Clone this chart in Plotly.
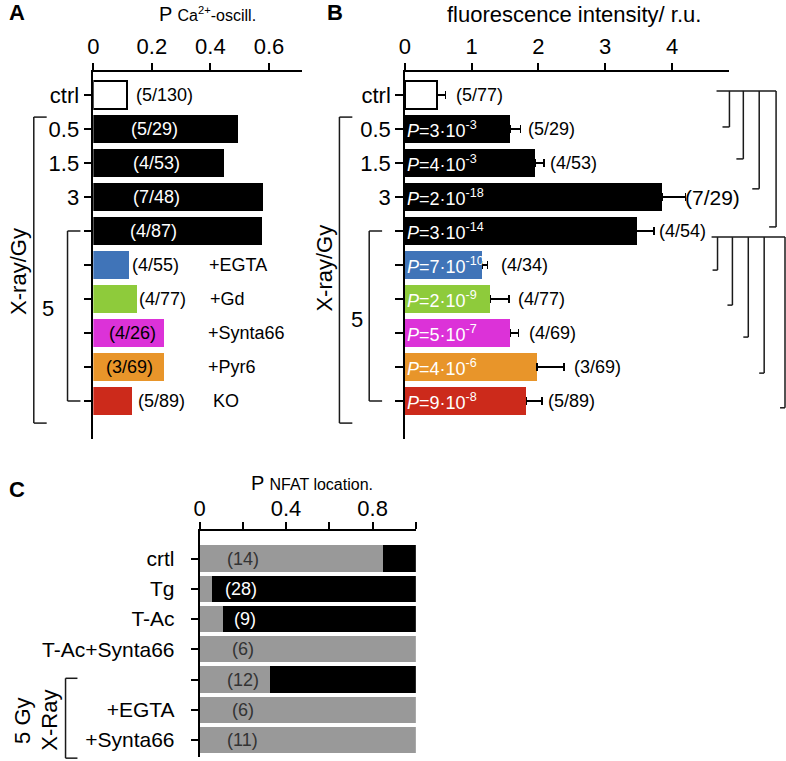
import plotly.graph_objects as go

W, H = 786, 761
FONT = "Liberation Sans, Arial, Helvetica, sans-serif"

# ---------------- data ----------------
# Panel A : probability of Ca2+ oscillation
a_rows = list(range(10))
a_labels = ["ctrl", "0.5", "1.5", "3", "", "", "", "", "", ""]
a_values = [0.115, 0.495, 0.447, 0.58, 0.577, 0.122, 0.15, 0.24, 0.24, 0.132]
a_counts = ["(5/130)", "(5/29)", "(4/53)", "(7/48)", "(4/87)", "(4/55)", "(4/77)", "(4/26)", "(3/69)", "(5/89)"]
a_treat = ["", "", "", "", "", "+EGTA", "+Gd", "+Synta66", "+Pyr6", "KO"]

# Panel B : fluorescence intensity
b_values = [0.48, 1.58, 1.95, 3.85, 3.47, 1.16, 1.28, 1.58, 1.98, 1.82]
b_err = [0.13, 0.15, 0.13, 0.35, 0.26, 0.08, 0.28, 0.12, 0.40, 0.23]
b_counts = ["(5/77)", "(5/29)", "(4/53)", "(7/29)", "(4/54)", "(4/34)", "(4/77)", "(4/69)", "(3/69)", "(5/89)"]
b_pvals = ["", "3·10<sup>-3</sup>", "4·10<sup>-3</sup>", "2·10<sup>-18</sup>", "3·10<sup>-14</sup>",
           "7·10<sup>-10</sup>", "2·10<sup>-9</sup>", "5·10<sup>-7</sup>", "4·10<sup>-6</sup>", "9·10<sup>-8</sup>"]

# Panel C : NFAT location
c_rows = list(range(7))
c_labels = ["crtl", "Tg", "T-Ac", "T-Ac+Synta66", "", "+EGTA", "+Synta66"]
c_gray = [0.85, 0.058, 0.11, 1.0, 0.325, 1.0, 1.0]
c_black = [0.15, 0.942, 0.89, 0.0, 0.675, 0.0, 0.0]
c_n = ["(14)", "(28)", "(9)", "(6)", "(12)", "(6)", "(11)"]

# ---------------- styles / positions ----------------
bar_colors = ["#ffffff", "#000000", "#000000", "#000000", "#000000",
              "#4074b8", "#8ecb3b", "#dc32d8", "#e8952a", "#cc2a1b"]
bar_lw = [1.2, 0, 0, 0, 0, 0, 0, 0, 0, 0]
a_count_x = [0.153, 0.21, 0.217, 0.217, 0.205, 0.14, 0.163, 0.133, 0.123, 0.159]
a_count_anchor = ["left", "center", "center", "center", "center", "left", "left", "center", "center", "left"]
a_count_col = ["black", "white", "white", "white", "white", "black", "black", "black", "black", "black"]
a_treat_x = [0, 0, 0, 0, 0, 0.403, 0.405, 0.40, 0.40, 0.416]
b_count_x = [0.80, 1.87, 2.20, 4.22, 3.83, 1.47, 1.72, 1.89, 2.56, 2.18]
b_count_size = [18, 18, 18, 21, 18, 18, 18, 18, 18, 18]
c_text_col = ["#333333", "white", "white", "#333333", "#333333", "#333333", "#333333"]
c_text_x = [0.2, 0.19, 0.21, 0.2, 0.2, 0.2, 0.2]

# geometry (pixels)
AB_TOP, AB_BOT, AB_ROW0, AB_ROWH = 72, 439, 95, 34
C_TOP, C_BOT, C_ROW0, C_ROWH = 531, 757, 558.5, 30.25


def xp(px):
    return px / W


def yp(py):
    return 1 - py / H


def ab_row_px(r):
    return AB_ROW0 + AB_ROWH * r


def c_row_px(r):
    return C_ROW0 + C_ROWH * r


fig = go.Figure()

# Panel A bars
fig.add_trace(go.Bar(x=a_values, y=a_rows, orientation="h", width=0.82,
                     marker=dict(color=bar_colors, line=dict(color="black", width=bar_lw)),
                     xaxis="x", yaxis="y", showlegend=False, hoverinfo="skip"))
# Panel B bars
fig.add_trace(go.Bar(x=b_values, y=a_rows, orientation="h", width=0.82,
                     marker=dict(color=bar_colors, line=dict(color="black", width=bar_lw)),
                     error_x=dict(type="data", symmetric=False, array=b_err,
                                  arrayminus=[0] * len(b_err), color="black", thickness=1.5, width=4),
                     xaxis="x2", yaxis="y2", showlegend=False, hoverinfo="skip"))
# Panel C stacked bars
fig.add_trace(go.Bar(x=c_gray, y=c_rows, orientation="h", width=0.86,
                     marker=dict(color="#999999", line=dict(width=0)),
                     xaxis="x3", yaxis="y3", showlegend=False, hoverinfo="skip"))
fig.add_trace(go.Bar(x=c_black, y=c_rows, orientation="h", width=0.86,
                     marker=dict(color="#000000", line=dict(width=0)),
                     xaxis="x3", yaxis="y3", showlegend=False, hoverinfo="skip"))

axis_common = dict(showline=True, linecolor="black", linewidth=1.5, ticks="outside",
                   tickcolor="black", tickwidth=1.5, showgrid=False, zeroline=False,
                   fixedrange=True)

ab_range = [(AB_BOT - AB_ROW0) / AB_ROWH, (AB_TOP - AB_ROW0) / AB_ROWH]
c_range = [(C_BOT - C_ROW0) / C_ROWH, (C_TOP - C_ROW0) / C_ROWH]

fig.update_layout(
    width=W, height=H, margin=dict(l=0, r=0, t=0, b=0),
    paper_bgcolor="white", plot_bgcolor="white", barmode="stack",
    font=dict(family=FONT, color="black"),
    xaxis=dict(axis_common, domain=[xp(88), xp(298)], range=[0, 0.712], side="top", anchor="y",
               tickvals=[0, 0.2, 0.4, 0.6], ticktext=["0", "0.2", "0.4", "0.6"],
               ticklen=7, tickfont=dict(size=22), ticklabelstandoff=0),
    yaxis=dict(axis_common, domain=[yp(AB_BOT), yp(AB_TOP)], range=ab_range, anchor="x",
               tickvals=a_rows, ticktext=a_labels, ticklen=8, tickfont=dict(size=22)),
    xaxis2=dict(axis_common, domain=[xp(402), xp(729)], range=[0, 4.86], side="top", anchor="y2",
                tickvals=[0, 1, 2, 3, 4], ticktext=["0", "1", "2", "3", "4"],
                ticklen=7, tickfont=dict(size=22), ticklabelstandoff=0),
    yaxis2=dict(axis_common, domain=[yp(AB_BOT), yp(AB_TOP)], range=ab_range, anchor="x2",
                tickvals=a_rows, ticktext=a_labels, ticklen=8, tickfont=dict(size=22)),
    xaxis3=dict(axis_common, domain=[xp(195), xp(413)], range=[0, 1.0], side="top", anchor="y3",
                tickvals=[0, 0.2, 0.4, 0.6, 0.8, 1.0], ticktext=["0", "", "0.4", "", "0.8", ""],
                ticklen=7, tickfont=dict(size=22), ticklabelstandoff=-3),
    yaxis3=dict(axis_common, domain=[yp(C_BOT), yp(C_TOP)], range=c_range, anchor="x3",
                tickvals=c_rows, ticktext=c_labels, ticklen=7, tickfont=dict(size=21),
                ticklabelstandoff=12),
)

ann = []
# Panel A labels
for i in a_rows:
    ann.append(dict(x=a_count_x[i], y=i, xref="x", yref="y", text=a_counts[i], showarrow=False,
                    xanchor=a_count_anchor[i], yanchor="middle",
                    xshift=-4 if a_count_anchor[i] == "left" else 0,
                    font=dict(size=18, color=a_count_col[i])))
    if a_treat[i]:
        ann.append(dict(x=a_treat_x[i], y=i, xref="x", yref="y", text=a_treat[i], showarrow=False,
                        xanchor="left", yanchor="middle", xshift=-4, font=dict(size=18)))
# Panel B labels
for i in a_rows:
    ann.append(dict(x=b_count_x[i], y=i, xref="x2", yref="y2", text=b_counts[i], showarrow=False,
                    xanchor="left", yanchor="middle", xshift=-4, font=dict(size=b_count_size[i])))
    if b_pvals[i]:
        ann.append(dict(x=0.0, y=i, xref="x2", yref="y2", text="<i>P</i>=" + b_pvals[i],
                        showarrow=False, xanchor="left", yanchor="middle", xshift=0,
                        font=dict(size=18, color="white")))
# Panel C labels
for i in c_rows:
    ann.append(dict(x=c_text_x[i], y=i, xref="x3", yref="y3", text=c_n[i], showarrow=False,
                    xanchor="center", yanchor="middle", font=dict(size=18, color=c_text_col[i])))

# titles / panel letters / bracket labels (pixel placed)
def pann(px, py, text, size, xanchor="center", angle=0):
    ann.append(dict(x=xp(px), y=yp(py), xref="paper", yref="paper", text=text, showarrow=False,
                    xanchor=xanchor, yanchor="middle", textangle=angle,
                    font=dict(size=size, color="black")))

pann(203, 14, "P <span style='font-size:16px'>Ca<sup>2+</sup>-oscill.</span>", 20)
pann(572, 14, "fluorescence intensity/ r.u.", 22)
pann(308, 483, "P <span style='font-size:16px'>NFAT location.</span>", 20)
pann(1, 13, "<b>A</b>", 22, xanchor="left")
pann(321, 13, "<b>B</b>", 22, xanchor="left")
pann(1, 489, "<b>C</b>", 22, xanchor="left")
pann(12, 271, "X-ray/Gy", 22, angle=-90)
pann(42, 308, "5", 22)
pann(320, 268, "X-ray/Gy", 22, angle=-90)
pann(354, 319, "5", 22)
pann(16, 721, "5 Gy", 22, angle=-90)
pann(43, 720, "X-Ray", 22, angle=-90)

shapes = []
LINE = dict(color="#1a1a1a", width=1.5)


def seg(x0, y0, x1, y1):
    shapes.append(dict(type="line", xref="paper", yref="paper", x0=xp(x0), y0=yp(y0),
                       x1=xp(x1), y1=yp(y1), line=LINE))


def left_bracket(x, ytop, ybot, stub):
    seg(x, ytop, x, ybot)
    seg(x, ytop, x + stub, ytop)
    seg(x, ybot, x + stub, ybot)


# Panel A brackets
left_bracket(28, ab_row_px(0.65), ab_row_px(9.65), 13)
left_bracket(62, ab_row_px(4), ab_row_px(9), 13)
# Panel B brackets
left_bracket(336, ab_row_px(0.65), ab_row_px(9.65), 13)
left_bracket(366, ab_row_px(4), ab_row_px(9), 13)
# Panel C bracket
left_bracket(60, c_row_px(3.96), c_row_px(6.6), 12)

# Panel B significance brackets (right side)
top_y = ab_row_px(-0.12)
seg(716, top_y, 776, top_y)
for xx, r in zip([729, 743, 759, 776], [0.94, 1.88, 2.76, 3.88]):
    seg(xx, top_y, xx, ab_row_px(r))
    seg(xx - 7, ab_row_px(r), xx, ab_row_px(r))
bot_y = ab_row_px(4.18)
seg(711, bot_y, 785, bot_y)
for xx, r in zip([717, 732, 748, 764, 785], [5.15, 6.18, 7.12, 8.18, 9.2]):
    seg(xx, bot_y, xx, ab_row_px(r))
    seg(xx - 5, ab_row_px(r), xx, ab_row_px(r))

fig.update_layout(annotations=ann, shapes=shapes)
fig.write_html("out.html", config={"displayModeBar": False},
               post_script="document.body.style.margin='0';document.body.style.overflow='hidden';")
